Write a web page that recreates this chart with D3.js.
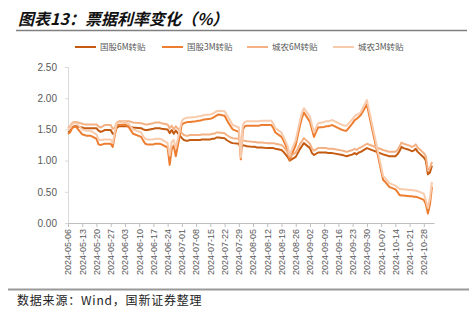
<!DOCTYPE html>
<html>
<head>
<meta charset="utf-8">
<script src="https://cdn.jsdelivr.net/npm/d3@7"></script>
<style>
  html, body { margin: 0; padding: 0; background: #fff; }
  svg { display: block; }
</style>
</head>
<body>
<svg id="chart" width="469" height="323"></svg>
<script>
// Trading days covered by the bill-rate series
const dates = [
  "2024-05-06","2024-05-07","2024-05-08","2024-05-09","2024-05-10",
  "2024-05-13","2024-05-14","2024-05-15","2024-05-16","2024-05-17",
  "2024-05-20","2024-05-21","2024-05-22","2024-05-23","2024-05-24",
  "2024-05-27","2024-05-28","2024-05-29","2024-05-30","2024-05-31",
  "2024-06-03","2024-06-04","2024-06-05","2024-06-06","2024-06-07",
  "2024-06-11","2024-06-12","2024-06-13","2024-06-14",
  "2024-06-17","2024-06-18","2024-06-19","2024-06-20","2024-06-21",
  "2024-06-24","2024-06-25","2024-06-26","2024-06-27","2024-06-28",
  "2024-07-01","2024-07-02","2024-07-03","2024-07-04","2024-07-05",
  "2024-07-08","2024-07-09","2024-07-10","2024-07-11","2024-07-12",
  "2024-07-15","2024-07-16","2024-07-17","2024-07-18","2024-07-19",
  "2024-07-22","2024-07-23","2024-07-24","2024-07-25","2024-07-26",
  "2024-07-29","2024-07-30","2024-07-31",
  "2024-08-01","2024-08-02",
  "2024-08-05","2024-08-06","2024-08-07","2024-08-08","2024-08-09",
  "2024-08-12","2024-08-13","2024-08-14","2024-08-15","2024-08-16",
  "2024-08-19","2024-08-20","2024-08-21","2024-08-22","2024-08-23",
  "2024-08-26","2024-08-27","2024-08-28","2024-08-29","2024-08-30",
  "2024-09-02","2024-09-03","2024-09-04","2024-09-05","2024-09-06",
  "2024-09-09","2024-09-10","2024-09-11","2024-09-12","2024-09-13",
  "2024-09-18","2024-09-19","2024-09-20",
  "2024-09-23","2024-09-24","2024-09-25","2024-09-26","2024-09-27",
  "2024-09-30",
  "2024-10-08","2024-10-09","2024-10-10","2024-10-11",
  "2024-10-14","2024-10-15","2024-10-16","2024-10-17","2024-10-18",
  "2024-10-21","2024-10-22","2024-10-23","2024-10-24","2024-10-25",
  "2024-10-28","2024-10-29","2024-10-30","2024-10-31",
  "2024-11-01"
];

// 国股6M转贴 (%)
const guogu6M = [
  1.45,1.47,1.53,1.55,1.55, 1.53,1.52,1.52,1.52,1.52, 1.52,1.48,1.46,1.47,1.49, 1.49,1.43,1.44,1.53,1.55,
  1.55,1.55,1.55,1.54,1.53, 1.52,1.50,1.49,1.49, 1.51,1.52,1.52,1.52,1.51, 1.50,1.44,1.49,1.43,1.48,
  1.36,1.33,1.32,1.32,1.33, 1.33,1.33,1.33,1.34,1.34, 1.34,1.35,1.35,1.37,1.37, 1.36,1.33,1.31,1.29,1.28, 1.27,1.21,1.24,
  1.24,1.23, 1.22,1.22,1.21,1.21,1.21, 1.20,1.20,1.20,1.20,1.19, 1.17,1.14,1.10,1.06,1.00, 1.06,1.12,1.18,1.23,1.28,
  1.20,1.12,1.09,1.11,1.13, 1.13,1.13,1.12,1.12,1.12, 1.09,1.08,1.07, 1.10,1.12,1.10,1.13,1.14, 1.20,
  1.10,1.09,1.08,1.07, 1.07,1.10,1.15,1.22,1.20, 1.17,1.15,1.16,1.19,1.14, 1.05,1.00,0.78,0.81,
  0.92
];

// 国股3M转贴 (%)
const guogu3M = [
  1.43,1.45,1.52,1.54,1.54, 1.42,1.41,1.40,1.40,1.40, 1.35,1.26,1.25,1.26,1.27, 1.27,1.22,1.40,1.57,1.57,
  1.58,1.56,1.53,1.48,1.43, 1.38,1.32,1.27,1.26, 1.26,1.27,1.27,1.27,1.26, 1.21,0.93,1.18,1.24,1.07,
  1.58,1.60,1.61,1.62,1.62, 1.63,1.64,1.64,1.65,1.66, 1.67,1.68,1.70,1.72,1.74, 1.72,1.66,1.60,1.55,1.50, 1.46,1.02,1.50,
  1.55,1.56, 1.56,1.56,1.56,1.56,1.57, 1.57,1.57,1.57,1.52,1.45, 1.38,1.32,1.25,1.15,1.01, 1.25,1.40,1.55,1.68,1.77,
  1.62,1.50,1.38,1.46,1.53, 1.54,1.55,1.55,1.56,1.57, 1.49,1.48,1.48, 1.60,1.65,1.67,1.70,1.73, 1.90,
  0.69,0.66,0.62,0.58, 0.54,0.50,0.45,0.44,0.44, 0.43,0.43,0.42,0.42,0.41, 0.37,0.30,0.15,0.30,
  0.58
];

// 城农6M转贴 (%)
const chengnong6M = [
  1.52,1.55,1.60,1.62,1.62, 1.59,1.58,1.58,1.58,1.58, 1.58,1.55,1.53,1.55,1.57, 1.57,1.51,1.52,1.61,1.63,
  1.63,1.63,1.63,1.62,1.61, 1.60,1.59,1.58,1.58, 1.60,1.61,1.61,1.61,1.60, 1.58,1.52,1.56,1.50,1.55,
  1.44,1.41,1.40,1.40,1.41, 1.41,1.41,1.41,1.42,1.42, 1.42,1.43,1.43,1.45,1.45, 1.44,1.41,1.39,1.37,1.36, 1.35,1.29,1.32,
  1.32,1.31, 1.30,1.30,1.29,1.29,1.29, 1.28,1.28,1.28,1.28,1.27, 1.25,1.22,1.18,1.13,1.06, 1.13,1.19,1.26,1.31,1.36,
  1.27,1.19,1.16,1.18,1.20, 1.20,1.20,1.19,1.19,1.19, 1.16,1.15,1.14, 1.17,1.19,1.17,1.20,1.21, 1.27,
  1.17,1.16,1.15,1.14, 1.14,1.17,1.22,1.29,1.27, 1.24,1.22,1.23,1.26,1.21, 1.12,1.07,0.84,0.88,
  0.98
];

// 城农3M转贴 (%)
const chengnong3M = [
  1.50,1.52,1.58,1.60,1.60, 1.50,1.49,1.48,1.48,1.48, 1.42,1.34,1.33,1.33,1.34, 1.34,1.28,1.45,1.60,1.61,
  1.62,1.60,1.58,1.54,1.50, 1.45,1.39,1.35,1.34, 1.34,1.35,1.35,1.35,1.34, 1.28,1.08,1.30,1.33,1.20,
  1.64,1.67,1.68,1.69,1.69, 1.70,1.71,1.71,1.72,1.73, 1.74,1.75,1.77,1.79,1.80, 1.79,1.74,1.68,1.63,1.57, 1.53,1.05,1.57,
  1.62,1.63, 1.63,1.63,1.63,1.63,1.64, 1.64,1.64,1.64,1.59,1.52, 1.45,1.38,1.31,1.23,1.09, 1.33,1.48,1.63,1.76,1.84,
  1.70,1.57,1.45,1.53,1.60, 1.62,1.63,1.63,1.64,1.65, 1.57,1.56,1.56, 1.67,1.71,1.74,1.74,1.78, 1.97,
  0.75,0.72,0.68,0.64, 0.60,0.57,0.55,0.54,0.54, 0.53,0.53,0.52,0.52,0.51, 0.47,0.36,0.24,0.40,
  0.66
];

const seriesNames = ["国股6M转贴", "国股3M转贴", "城农6M转贴", "城农3M转贴"];
const seriesColors = ["#C55A11", "#ED7D31", "#F4B183", "#F8CBAD"];

// Weekly axis labels (Mondays)
const xTickLabels = [
  "2024-05-06","2024-05-13","2024-05-20","2024-05-27","2024-06-03","2024-06-10",
  "2024-06-17","2024-06-24","2024-07-01","2024-07-08","2024-07-15","2024-07-22",
  "2024-07-29","2024-08-05","2024-08-12","2024-08-19","2024-08-26","2024-09-02",
  "2024-09-09","2024-09-16","2024-09-23","2024-09-30","2024-10-07","2024-10-14",
  "2024-10-21","2024-10-28"
];
const yTickValues = [0, 0.5, 1.0, 1.5, 2.0, 2.5];

const parse = d3.timeParse("%Y-%m-%d");
const svg = d3.select("#chart");
const textGray = "#595959";

// Title and rules
svg.append("text")
  .attr("x", 18).attr("y", 25)
  .attr("font-family", "'Noto Sans CJK SC', sans-serif")
  .attr("font-size", 16).attr("font-weight", "bold").attr("font-style", "italic")
  .attr("fill", "#111")
  .text("图表13：票据利率变化（%）");
svg.append("line").attr("x1", 16).attr("x2", 467).attr("y1", 30.5).attr("y2", 30.5)
  .attr("stroke", "#808080").attr("stroke-width", 1.5);
svg.append("line").attr("x1", 8).attr("x2", 469).attr("y1", 289.5).attr("y2", 289.5)
  .attr("stroke", "#999").attr("stroke-width", 2.2);
svg.append("text")
  .attr("x", 17).attr("y", 305)
  .attr("font-family", "'Noto Sans CJK SC', sans-serif")
  .attr("font-size", 12).attr("letter-spacing", 0.8)
  .attr("fill", "#222")
  .text("数据来源：Wind，国新证券整理");

// Scales
const x = d3.scaleTime()
  .domain([parse("2024-05-06"), parse("2024-11-02")])
  .range([68, 434]);
const y = d3.scaleLinear().domain([0, 2.5]).range([223, 67]);

// Y axis
const yAxis = svg.append("g")
  .attr("transform", "translate(68,0)")
  .call(d3.axisLeft(y).tickValues(yTickValues).tickFormat(d3.format(".2f")).tickSize(3).tickPadding(8));
yAxis.select(".domain").attr("stroke", "#d9d9d9");
yAxis.selectAll(".tick line").attr("stroke", "#d9d9d9");
yAxis.selectAll("text")
  .attr("font-family", "'Liberation Sans', Arial, sans-serif")
  .attr("font-size", 10).attr("fill", textGray);

// X axis
const xAxis = svg.append("g")
  .attr("transform", "translate(0,223)")
  .call(d3.axisBottom(x).tickValues(xTickLabels.map(parse)).tickFormat(d3.timeFormat("%Y-%m-%d")).tickSize(4).tickSizeOuter(0));
xAxis.select(".domain").attr("stroke", "#bfbfbf");
xAxis.selectAll(".tick line").attr("stroke", "#bfbfbf");
xAxis.selectAll("text")
  .attr("font-family", "'Liberation Sans', Arial, sans-serif")
  .attr("font-size", 9).attr("fill", textGray)
  .attr("text-anchor", "end")
  .attr("dx", 0).attr("dy", "0.32em")
  .attr("transform", "translate(0,6) rotate(-90)")
  .attr("x", 0).attr("y", 0);

// Lines
const allSeries = [guogu6M, guogu3M, chengnong6M, chengnong3M];
const line = d3.line()
  .x((d, i) => x(parse(dates[i])))
  .y(d => y(d));
svg.append("g").selectAll("path")
  .data(allSeries)
  .join("path")
  .attr("d", d => line(d))
  .attr("fill", "none")
  .attr("stroke", (d, i) => seriesColors[i])
  .attr("stroke-width", 2)
  .attr("stroke-linejoin", "round");

// Legend
const legendX = [75, 162, 247, 333];
const legend = svg.append("g").selectAll("g")
  .data(seriesNames)
  .join("g")
  .attr("transform", (d, i) => `translate(${legendX[i]},47)`);
legend.append("line")
  .attr("x1", 0).attr("x2", 21).attr("y1", 0).attr("y2", 0)
  .attr("stroke", (d, i) => seriesColors[i]).attr("stroke-width", 2);
legend.append("text")
  .attr("x", 25).attr("y", 3)
  .attr("font-family", "'Noto Sans CJK SC', sans-serif")
  .attr("font-size", 8.5).attr("fill", textGray)
  .text(d => d);
</script>
</body>
</html>
